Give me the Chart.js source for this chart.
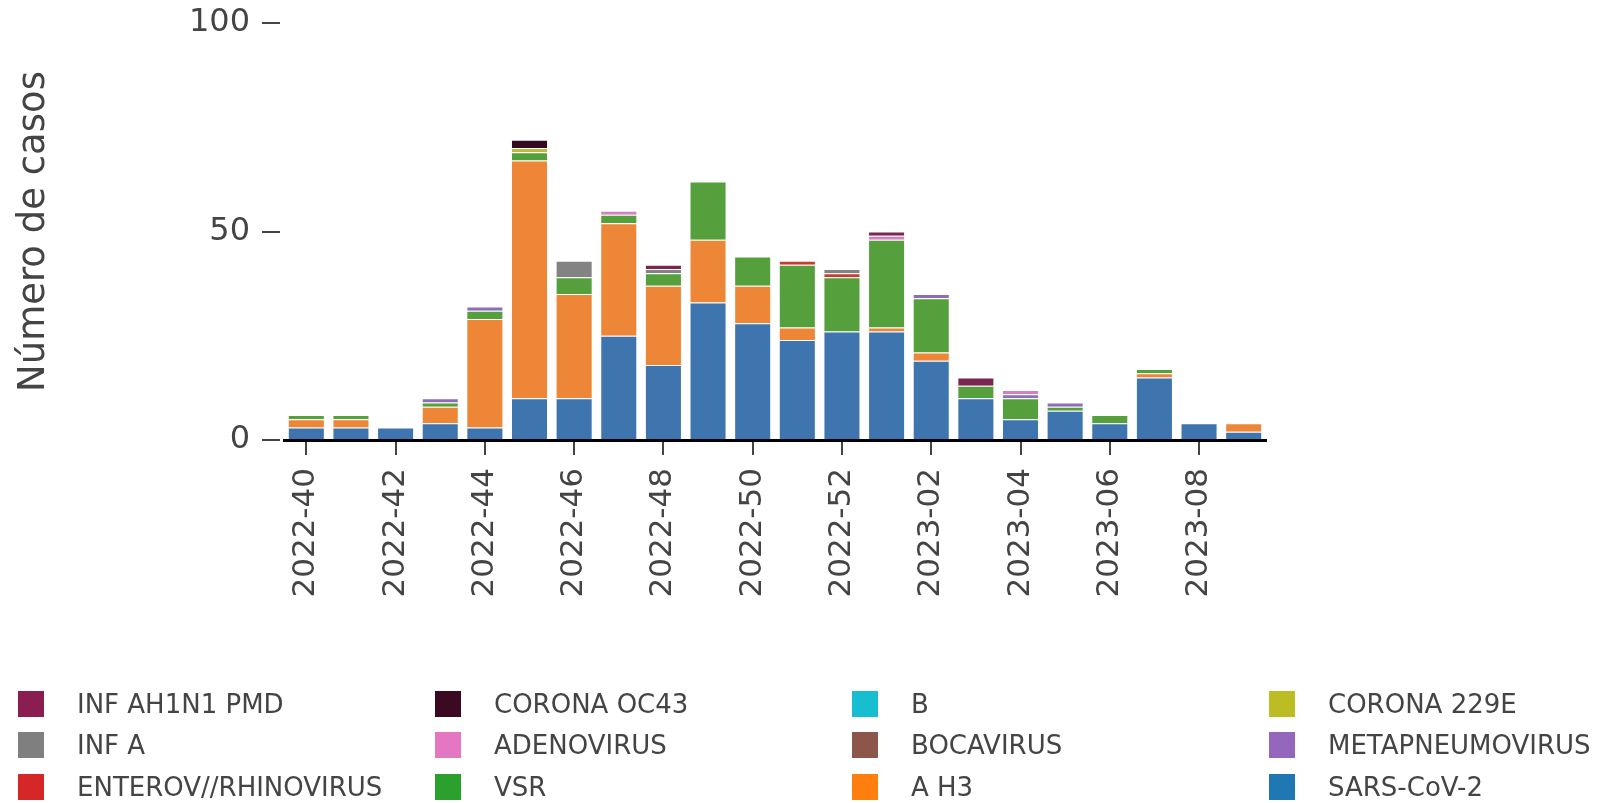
<!DOCTYPE html>
<html>
<head>
    <meta charset="utf-8">
    <title>Número de casos por semana</title>
    <script src="https://cdn.jsdelivr.net/npm/chart.js"></script>
    <style>
        body {
            margin: 0;
            background-color: #ffffff;
            font-family: "DejaVu Sans", sans-serif;
        }
        .wrap {
            position: relative;
            width: 1598px;
            height: 803px;
        }
        #chart {
            position: absolute;
            left: 0;
            top: 0;
        }
        .legend {
            position: absolute;
            left: 18px;
            top: 683px;
            display: grid;
            grid-template-columns: repeat(4, 417px);
            grid-auto-rows: 41.5px;
        }
        .legend-item {
            display: flex;
            align-items: center;
            font-size: 26px;
            color: #444444;
            white-space: nowrap;
        }
        .legend-item span.box {
            display: inline-block;
            width: 26px;
            height: 26px;
            margin-right: 33px;
        }
    </style>
</head>
<body>
    <div class="wrap">
        <canvas id="chart" width="1598" height="803"></canvas>
        <div class="legend" id="legend"></div>
    </div>

    <script>
        // epidemiological weeks
        const weeks = [
            '2022-40', '2022-41', '2022-42', '2022-43', '2022-44', '2022-45', '2022-46',
            '2022-47', '2022-48', '2022-49', '2022-50', '2022-51', '2022-52', '2023-01',
            '2023-02', '2023-03', '2023-04', '2023-05', '2023-06', '2023-07', '2023-08', '2023-09'
        ];

        // cases per virus, bottom of the stack first
        const sarsCov2       = [3, 3, 3, 4, 3, 10, 10, 25, 18, 33, 28, 24, 26, 26, 19, 10, 5, 7, 4, 15, 4, 2];
        const aH3            = [2, 2, 0, 4, 26, 57, 25, 27, 19, 15, 9, 3, 0, 1, 2, 0, 0, 0, 0, 1, 0, 2];
        const vsr            = [1, 1, 0, 1, 2, 2, 4, 2, 3, 14, 7, 15, 13, 21, 13, 3, 5, 1, 2, 1, 0, 0];
        const enterovRhino   = [0, 0, 0, 0, 0, 0, 0, 0, 0, 0, 0, 1, 1, 0, 0, 0, 0, 0, 0, 0, 0, 0];
        const metapneumo     = [0, 0, 0, 1, 1, 0, 0, 0, 0, 0, 0, 0, 0, 0, 1, 0, 1, 1, 0, 0, 0, 0];
        const bocavirus      = [0, 0, 0, 0, 0, 0, 0, 0, 0, 0, 0, 0, 0, 0, 0, 0, 0, 0, 0, 0, 0, 0];
        const adenovirus     = [0, 0, 0, 0, 0, 0, 0, 1, 0, 0, 0, 0, 0, 1, 0, 0, 1, 0, 0, 0, 0, 0];
        const infA           = [0, 0, 0, 0, 0, 0, 4, 0, 1, 0, 0, 0, 1, 0, 0, 0, 0, 0, 0, 0, 0, 0];
        const corona229E     = [0, 0, 0, 0, 0, 1, 0, 0, 0, 0, 0, 0, 0, 0, 0, 0, 0, 0, 0, 0, 0, 0];
        const infB           = [0, 0, 0, 0, 0, 0, 0, 0, 0, 0, 0, 0, 0, 0, 0, 0, 0, 0, 0, 0, 0, 0];
        const coronaOC43     = [0, 0, 0, 0, 0, 2, 0, 0, 0, 0, 0, 0, 0, 0, 0, 0, 0, 0, 0, 0, 0, 0];
        const infAH1N1       = [0, 0, 0, 0, 0, 0, 0, 0, 1, 0, 0, 0, 0, 1, 0, 2, 0, 0, 0, 0, 0, 0];

        const yTicks = [0, 50, 100];

        // label, values, bar colour, legend colour
        const series = [
            ['SARS-CoV-2', sarsCov2, '#3f75ae', '#1f77b4'],
            ['A H3', aH3, '#ed8637', '#ff7f0e'],
            ['VSR', vsr, '#559f3d', '#2ca02c'],
            ['ENTEROV//RHINOVIRUS', enterovRhino, '#c83b31', '#d62728'],
            ['METAPNEUMOVIRUS', metapneumo, '#8f6cb9', '#9467bd'],
            ['BOCAVIRUS', bocavirus, '#8a5a4f', '#8c564b'],
            ['ADENOVIRUS', adenovirus, '#d47fbe', '#e377c2'],
            ['INF A', infA, '#838383', '#7f7f7f'],
            ['CORONA 229E', corona229E, '#bdbc3c', '#bcbd22'],
            ['B', infB, '#34b9c8', '#17becf'],
            ['CORONA OC43', coronaOC43, '#330a20', '#3b0a22'],
            ['INF AH1N1 PMD', infAH1N1, '#7b2650', '#8b1e50']
        ];

        const textColor = '#444444';

        const ctx = document.getElementById('chart').getContext('2d');
        const chart = new Chart(ctx, {
            type: 'bar',
            data: {
                labels: weeks,
                datasets: series.map(s => ({
                    label: s[0],
                    data: s[1],
                    backgroundColor: s[2],
                    borderColor: 'rgba(255, 255, 255, 0.5)',
                    borderWidth: 1,
                    barPercentage: 0.83,
                    categoryPercentage: 1.0
                }))
            },
            options: {
                responsive: false,
                animation: false,
                layout: {
                    padding: { top: 23, right: 332, bottom: 0, left: 0 }
                },
                plugins: {
                    legend: { display: false },
                    tooltip: { enabled: false }
                },
                scales: {
                    x: {
                        stacked: true,
                        z: 1,
                        grid: {
                            drawOnChartArea: false,
                            offset: false,
                            tickLength: 15,
                            lineWidth: 2,
                            tickColor: c => (c.index % 2 === 0 ? textColor : 'transparent')
                        },
                        border: { display: true, color: '#000000', width: 3 },
                        ticks: {
                            autoSkip: false,
                            minRotation: 90,
                            maxRotation: 90,
                            padding: 13,
                            color: textColor,
                            font: { family: 'DejaVu Sans', size: 31 },
                            callback: function (value, index) {
                                return index % 2 === 0 ? this.getLabelForValue(value) : '';
                            }
                        },
                        afterFit: scale => { scale.height = 363; }
                    },
                    y: {
                        stacked: true,
                        min: 0,
                        max: 100,
                        grid: {
                            drawOnChartArea: false,
                            tickLength: 22,
                            lineWidth: 2,
                            tickColor: textColor
                        },
                        border: { display: true, color: 'transparent', width: 8 },
                        afterBuildTicks: scale => {
                            scale.ticks = yTicks.map(v => ({ value: v }));
                        },
                        ticks: {
                            padding: 12,
                            color: textColor,
                            font: { family: 'DejaVu Sans', size: 32 }
                        },
                        title: {
                            display: true,
                            text: 'Número de casos',
                            color: textColor,
                            padding: { top: 12, bottom: 0 },
                            font: { family: 'DejaVu Sans', size: 37 }
                        },
                        afterFit: scale => {
                            scale.width = 284;
                            scale.paddingTop = 0;
                            scale.paddingBottom = 0;
                        }
                    }
                }
            }
        });

        // legend grid, same reading order as the original (rows of four)
        const legendEl = document.getElementById('legend');
        series.slice().reverse().forEach(s => {
            const item = document.createElement('div');
            item.className = 'legend-item';
            const box = document.createElement('span');
            box.className = 'box';
            box.style.backgroundColor = s[3];
            item.appendChild(box);
            item.appendChild(document.createTextNode(s[0]));
            legendEl.appendChild(item);
        });
    </script>
</body>
</html>
